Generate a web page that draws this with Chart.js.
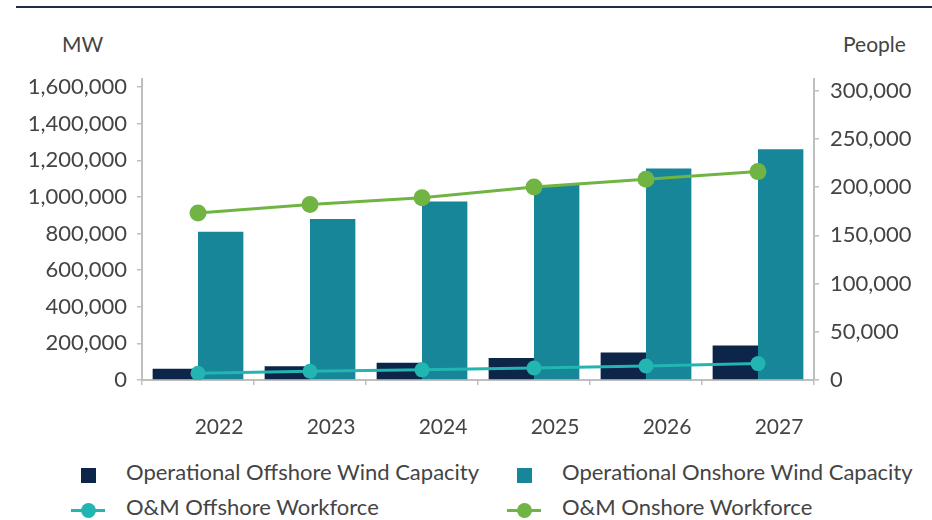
<!DOCTYPE html>
<html>
<head>
<meta charset="utf-8">
<script src="https://cdn.jsdelivr.net/npm/chart.js@4.4.0/dist/chart.umd.min.js"></script>
<style>
    body { margin: 0; background: #fff; }
    #wrap { position: relative; width: 932px; height: 520px; overflow: hidden; font-family: Lato, sans-serif; color: #444; }
    #topline { position: absolute; left: 16px; right: 0; top: 6px; height: 2px; background: #1f2d4a; }
    .unit { position: absolute; top: 31px; font-size: 21px; line-height: 26px; }
    #chart { position: absolute; left: 0; top: 0; }
    .leg { position: absolute; font-size: 22px; line-height: 28px; white-space: nowrap; }
    .sq { position: absolute; width: 15px; height: 15px; }
    .ln { position: absolute; height: 3px; }
    .dot { position: absolute; width: 15px; height: 15px; border-radius: 50%; }
</style>
</head>
<body>
<div id="wrap">
    <div id="topline"></div>
    <div class="unit" style="left:62px">MW</div>
    <div class="unit" style="left:843px">People</div>
    <canvas id="chart" width="932" height="440"></canvas>
    <div id="legend"></div>
</div>
<script>
// values
const years = ['2022', '2023', '2024', '2025', '2026', '2027'];
const offshoreCapacity = [62000, 75000, 94000, 120000, 150000, 188000];
const onshoreCapacity = [810000, 880000, 975000, 1065000, 1155000, 1260000];
const offshoreWorkforce = [7000, 9000, 10500, 12500, 14500, 17000];
const onshoreWorkforce = [173000, 182000, 189000, 200000, 208000, 216000];

const mwTicks = [0, 200000, 400000, 600000, 800000, 1000000, 1200000, 1400000, 1600000];
const peopleTicks = [0, 50000, 100000, 150000, 200000, 250000, 300000];

const seriesNames = [
    'Operational Offshore Wind Capacity',
    'Operational Onshore Wind Capacity',
    'O&M Offshore Workforce',
    'O&M Onshore Workforce'
];
const colors = ['#0c2548', '#168698', '#22b5b1', '#70b544'];

const tickColor = '#444';
const axisGrey = '#bfbfbf';
const fmt = v => v.toLocaleString('en-US');
const tickFont = { family: 'Lato', size: 22 };

const ctx = document.getElementById('chart').getContext('2d');
new Chart(ctx, {
    data: {
        labels: years,
        datasets: [
            {
                type: 'line', label: seriesNames[2], data: offshoreWorkforce, yAxisID: 'y1',
                borderColor: colors[2], backgroundColor: colors[2], borderWidth: 3,
                pointRadius: 7.5, pointBorderWidth: 0, order: 0
            },
            {
                type: 'line', label: seriesNames[3], data: onshoreWorkforce, yAxisID: 'y1',
                borderColor: colors[3], backgroundColor: colors[3], borderWidth: 3,
                pointRadius: 8.5, pointBorderWidth: 0, order: 0
            },
            {
                type: 'bar', label: seriesNames[0], data: offshoreCapacity, yAxisID: 'y',
                backgroundColor: colors[0], categoryPercentage: 0.81, barPercentage: 1, order: 1
            },
            {
                type: 'bar', label: seriesNames[1], data: onshoreCapacity, yAxisID: 'y',
                backgroundColor: colors[1], categoryPercentage: 0.81, barPercentage: 1, order: 1
            }
        ]
    },
    options: {
        responsive: false,
        animation: false,
        layout: { padding: { top: 79, left: 0, right: 0, bottom: 0 } },
        plugins: { legend: { display: false }, tooltip: { enabled: false } },
        scales: {
            x: {
                offset: true,
                grid: { display: true, drawOnChartArea: false, offset: true, tickLength: 5, color: axisGrey, lineWidth: 1.5 },
                border: { color: axisGrey, width: 2 },
                ticks: { color: tickColor, font: { family: 'Lato', size: 21 }, padding: 30, labelOffset: 21, maxRotation: 0, autoSkip: false },
                afterFit: scale => { scale.height = 60; }
            },
            y: {
                position: 'left',
                min: 0,
                max: 1644000,
                grid: { drawOnChartArea: false, tickLength: 5, color: axisGrey, lineWidth: 1.5 },
                border: { color: axisGrey, width: 2 },
                ticks: { padding: 10, color: tickColor, font: tickFont, callback: v => fmt(v) },
                afterBuildTicks: scale => { scale.ticks = mwTicks.map(v => ({ value: v })); },
                afterFit: scale => { scale.width = 142; }
            },
            y1: {
                position: 'right',
                min: 0,
                max: 312000,
                grid: { drawOnChartArea: false, tickLength: 5, color: axisGrey, lineWidth: 1.5 },
                border: { color: axisGrey, width: 2 },
                ticks: { padding: 11, color: tickColor, font: tickFont, callback: v => fmt(v) },
                afterBuildTicks: scale => { scale.ticks = peopleTicks.map(v => ({ value: v })); },
                afterFit: scale => { scale.width = 118; }
            }
        }
    }
});

// legend: two rows, two columns
const legend = document.getElementById('legend');
const legendCols = [88, 524];
const legendRows = [475, 510];
seriesNames.forEach((name, i) => {
    const cx = legendCols[i % 2];
    const cy = legendRows[Math.floor(i / 2)];
    let marker;
    if (i < 2) {
        marker = `<div class="sq" style="left:${cx - 7.5}px;top:${cy - 7.5}px;background:${colors[i]}"></div>`;
    } else {
        marker = `<div class="ln" style="left:${cx - 17}px;top:${cy - 1.5}px;width:34px;background:${colors[i]}"></div>` +
            `<div class="dot" style="left:${cx - 7.5}px;top:${cy - 7.5}px;background:${colors[i]}"></div>`;
    }
    const text = `<div class="leg" style="left:${cx + 38}px;top:${cy - 17}px">${name.replace('&', '&amp;')}</div>`;
    legend.insertAdjacentHTML('beforeend', marker + text);
});
</script>
</body>
</html>
